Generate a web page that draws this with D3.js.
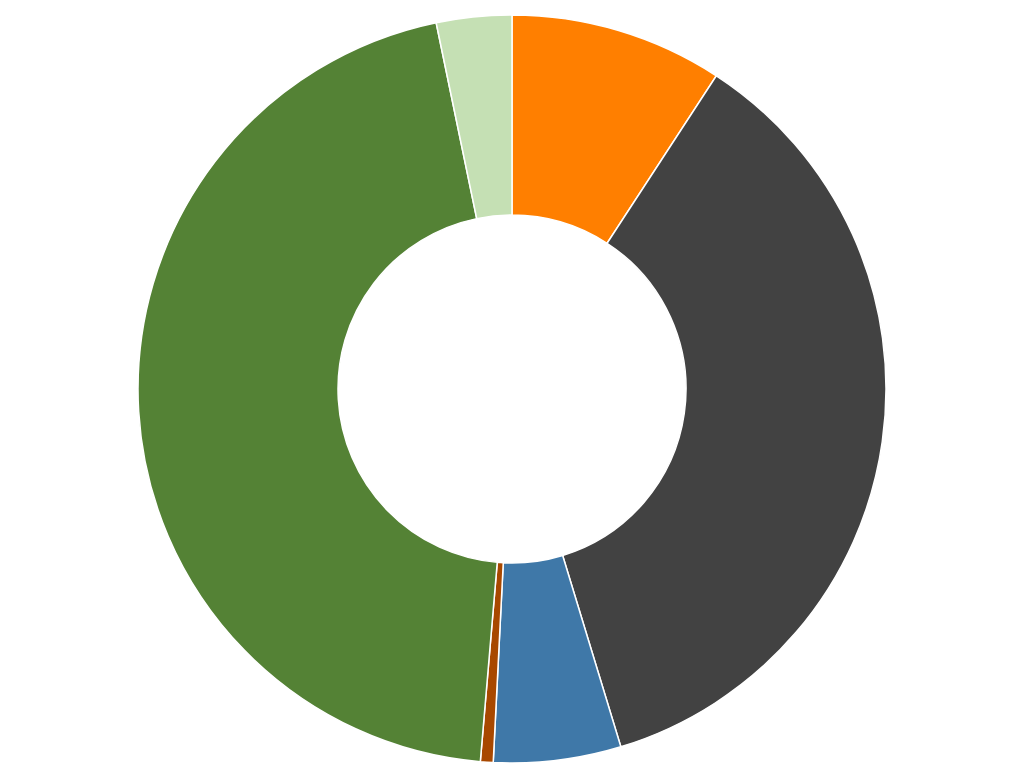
<!DOCTYPE html>
<html>
<head>
<meta charset="utf-8">
<script src="https://cdn.jsdelivr.net/npm/d3@7"></script>
<style>
  html, body { margin: 0; padding: 0; background: #fff; }
</style>
</head>
<body>
<div id="chart"></div>
<script>
(function() {
  'use strict';
  var WIDTH = 1030;
  var HEIGHT = 779;

  // slices, clockwise from 12 o'clock
  var categories = ['A', 'B', 'C', 'D', 'E', 'F'];
  var values = [9.2, 36.1, 5.5, 0.55, 45.4, 3.25];
  var colors = ['#ff7f00', '#424242', '#3f78a8', '#a84800', '#548235', '#c5e0b4'];

  var cx = 512, cy = 389;
  var outerR = 374, innerR = 174;

  var svg = d3.select('#chart').append('svg')
    .attr('width', WIDTH)
    .attr('height', HEIGHT);

  var g = svg.append('g')
    .attr('transform', 'translate(' + cx + ',' + cy + ')');

  var pie = d3.pie().sort(null).value(function(d) { return d.value; });
  var arc = d3.arc().innerRadius(innerR).outerRadius(outerR);

  var data = categories.map(function(c, i) {
    return {name: c, value: values[i], color: colors[i]};
  });

  g.selectAll('path')
    .data(pie(data))
    .enter().append('path')
    .attr('d', arc)
    .attr('fill', function(d) { return d.data.color; })
    .attr('stroke', '#fff')
    .attr('stroke-width', 1.5);
})();
</script>
</body>
</html>
